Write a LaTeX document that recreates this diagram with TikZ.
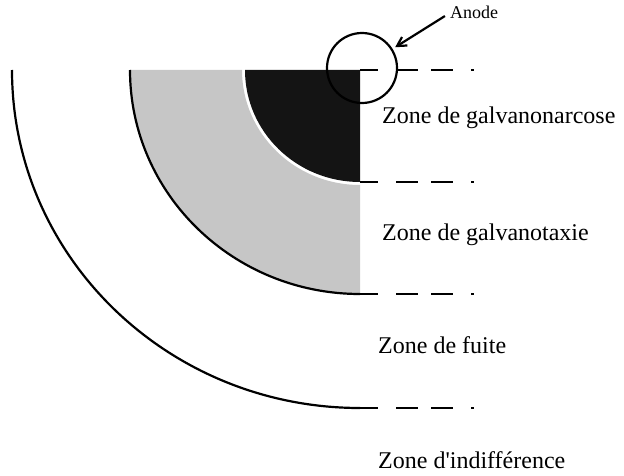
\documentclass[tikz,border=0pt]{standalone}
\usepackage{fontspec}
\setmainfont{Liberation Serif}
\usetikzlibrary{arrows.meta}
\definecolor{ZoneGray}{HTML}{C6C6C6}
\definecolor{ZoneBlack}{HTML}{141414}
\tikzset{
  zoneline/.style={line width=2.2pt, draw=black},
  zonedash/.style={line width=2.2pt, draw=black, dash pattern=on 18pt off 18pt on 22pt off 13pt on 22pt off 18pt on 3pt off 60pt},
  zonelabel/.style={anchor=base west, inner sep=0pt, font=\fontsize{24}{28}\selectfont},
  anodelabel/.style={anchor=base west, inner sep=0pt, font=\fontsize{18}{21}\selectfont},
  anodering/.style={circle, draw, line width=2.2pt, minimum size=70pt, inner sep=0pt},
  anodearrow/.style={-{Straight Barb[length=9pt,width=10pt]}, line width=2.2pt, shorten >=3pt, shorten <=6pt}
}
\begin{document}
\begin{tikzpicture}[x=1pt,y=1pt]
  \useasboundingbox (0,0) rectangle (624,475);

  \fill[ZoneGray] (130,405) arc[start angle=180, end angle=270, x radius=230, y radius=224]
    -- (360,290) arc[start angle=270, end angle=180, x radius=118, y radius=115] -- cycle;
  \fill[ZoneBlack] (360,405) -- (245,405) arc[start angle=180, end angle=270, x radius=115, y radius=112] -- cycle;

  \draw[zoneline] (130,405) arc[start angle=180, end angle=270, x radius=230, y radius=224];
  \draw[zoneline] (12,405) arc[start angle=180, end angle=270, x radius=348, y radius=338];

  \draw[zonedash] (360,405) -- (475,405);
  \draw[zonedash] (360,293) -- (475,293);
  \draw[zonedash] (360,181) -- (475,181);
  \draw[zonedash] (360,67) -- (475,67);

  \node[zonelabel] (lblNarc) at (382,352) {Zone de galvanonarcose};
  \node[zonelabel] (lblTaxie) at (382,235) {Zone de galvanotaxie};
  \node[zonelabel] (lblFuite) at (378,122) {Zone de fuite};
  \node[zonelabel] (lblIndiff) at (378,7) {Zone d\textquotesingle indifférence};

  \node[anodering] (ring) at (362,407) {};
  \node[anodelabel] (lblAnode) at (450,456) {Anode};
  \draw[anodearrow] (lblAnode.west) -- (ring);
\end{tikzpicture}
\end{document}
